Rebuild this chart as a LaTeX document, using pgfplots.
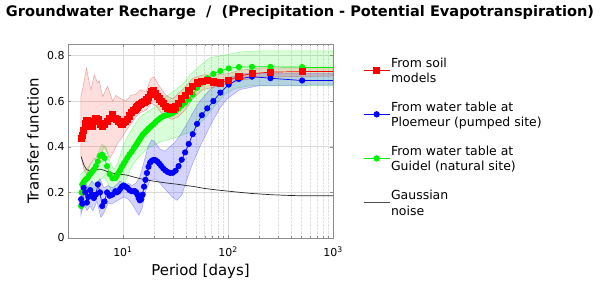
\documentclass[border=0pt]{standalone}
\usepackage{fontspec}
\setmainfont{DejaVu Sans}
\usepackage{graphicx}
\usepackage{pgfplots}
\pgfplotsset{compat=1.18}
\usepackage{pgfplotstable}

\pgfplotstableread{
P v
508 0.729
254 0.727
169.3 0.72
127 0.71
101.6 0.69
84.67 0.68
72.57 0.684
63.5 0.69
56.44 0.688
50.8 0.68
46.18 0.664
42.33 0.645
39.08 0.625
36.29 0.61
33.87 0.59
31.75 0.575
29.88 0.566
28.22 0.565
26.74 0.57
25.4 0.578
24.19 0.59
23.09 0.60
22.09 0.61
21.17 0.62
20.32 0.635
19.54 0.648
18.81 0.642
18.14 0.63
17.52 0.615
16.93 0.605
16.39 0.60
15.88 0.597
15.39 0.593
14.94 0.59
14.51 0.585
14.11 0.58
13.73 0.575
13.37 0.57
13.03 0.563
12.7 0.558
12.10 0.552
11.55 0.535
11.04 0.52
10.58 0.51
10.16 0.505
9.77 0.50
9.41 0.505
9.07 0.512
8.76 0.52
8.47 0.525
7.94 0.54
7.47 0.525
7.06 0.51
6.68 0.50
6.35 0.49
6.05 0.50
5.77 0.52
5.52 0.525
5.29 0.51
5.08 0.49
4.88 0.49
4.70 0.505
4.54 0.517
4.38 0.50
4.23 0.47
4.10 0.45
4.0 0.437
}\redtab

\pgfplotstableread{
P v
508 0.69
254 0.70
169.3 0.707
127 0.697
101.6 0.672
84.67 0.637
72.57 0.60
63.5 0.568
56.44 0.538
50.8 0.50
46.18 0.455
42.33 0.412
39.08 0.375
36.29 0.343
33.87 0.315
31.75 0.295
29.88 0.286
28.22 0.285
26.74 0.289
25.4 0.296
24.19 0.305
23.09 0.316
22.09 0.327
21.17 0.336
20.32 0.341
19.54 0.342
18.81 0.338
18.14 0.33
17.52 0.312
16.93 0.285
16.39 0.255
15.88 0.225
15.39 0.19
14.94 0.17
14.51 0.165
14.11 0.175
13.73 0.19
13.37 0.20
13.03 0.205
12.7 0.205
12.10 0.205
11.55 0.21
11.04 0.22
10.58 0.225
10.16 0.23
9.77 0.225
9.41 0.215
9.07 0.205
8.76 0.20
8.47 0.205
7.94 0.19
7.47 0.185
7.06 0.20
6.68 0.16
6.35 0.14
6.05 0.20
5.77 0.235
5.52 0.19
5.29 0.175
5.08 0.19
4.88 0.21
4.70 0.18
4.54 0.155
4.38 0.20
4.23 0.22
4.10 0.15
4.0 0.17
}\bluetab

\pgfplotstableread{
P v
508 0.749
254 0.75
169.3 0.75
127 0.749
101.6 0.743
84.67 0.732
72.57 0.719
63.5 0.70
56.44 0.68
50.8 0.658
46.18 0.628
42.33 0.607
39.08 0.593
36.29 0.58
33.87 0.567
31.75 0.555
29.88 0.548
28.22 0.543
26.74 0.54
25.4 0.537
24.19 0.533
23.09 0.528
22.09 0.521
21.17 0.514
20.32 0.506
19.54 0.498
18.81 0.492
18.14 0.486
17.52 0.479
16.93 0.472
16.39 0.465
15.88 0.458
15.39 0.452
14.94 0.443
14.51 0.434
14.11 0.425
13.73 0.417
13.37 0.408
13.03 0.40
12.7 0.393
12.10 0.378
11.55 0.366
11.04 0.352
10.58 0.338
10.16 0.325
9.77 0.312
9.41 0.298
9.07 0.285
8.76 0.272
8.47 0.262
7.94 0.262
7.47 0.28
7.06 0.315
6.68 0.35
6.35 0.365
6.05 0.36
5.77 0.335
5.52 0.315
5.29 0.30
5.08 0.29
4.88 0.28
4.70 0.27
4.54 0.26
4.38 0.255
4.23 0.245
4.10 0.235
4.03 0.20
4.0 0.14
}\greentab

\pgfplotstableread{
P v
4.0 0.357
4.25 0.32
4.5 0.30
4.8 0.295
5.2 0.298
5.6 0.30
6.0 0.302
6.5 0.298
7.5 0.287
9 0.28
10.8 0.276
13 0.266
15.6 0.257
19 0.25
22.5 0.245
27 0.24
32.4 0.236
40 0.23
46.7 0.226
60 0.217
80 0.21
97 0.206
130 0.2
170 0.195
250 0.19
350 0.187
500 0.185
1000 0.185
}\noisetab

\definecolor{cred}{RGB}{255,0,0}
\definecolor{cblue}{RGB}{0,0,255}
\definecolor{cgreen}{RGB}{0,240,0}

\begin{document}
\begin{tikzpicture}[x=1bp,y=1bp]
\path[use as bounding box] (0,0) rectangle (600,285);
\node at (300,272) {\resizebox{588bp}{!}{\bfseries Groundwater Recharge\hspace{0.7em}/\hspace{0.7em}(Precipitation - Potential Evapotranspiration)}};
\begin{axis}[
  at={(68bp,47bp)}, anchor=south west, scale only axis,
  width=265bp, height=194bp,
  xmode=log, xmin=3, xmax=1000, ymin=0, ymax=0.85,
  xtick={10,100,1000},
  xticklabels={10\textsuperscript{1},10\textsuperscript{2},10\textsuperscript{3}},
  ytick={0,0.2,0.4,0.6,0.8},
  yticklabels={0,0.2,0.4,0.6,0.8},
  grid=both,
  major grid style={black!14, line width=0.5pt},
  minor grid style={black!12, line width=0.4pt, densely dotted},
  axis line style={black!45},
  tick style={black!45},
  tick align=inside,
  major tick length=3bp, minor tick length=2bp,
  tick label style={font=\fontsize{11}{13}\selectfont},
  xticklabel style={yshift=-5bp},
  xlabel={Period [days]}, ylabel={Transfer function},
  label style={font=\fontsize{15}{18}\selectfont},
  xlabel style={at={(axis description cs:0.5,0)}, anchor=center, yshift=-33bp},
  ylabel style={at={(axis description cs:-0.132,0.5)}, anchor=center},
  legend style={at={(axis description cs:1,1)}, anchor=north west,
    xshift=27bp, yshift=-9bp, draw=none, fill=none,
    font=\fontsize{12.5}{15.7}\selectfont, row sep=14bp,
    nodes={align=left, inner sep=1bp},
    /tikz/every even column/.style={column sep=12bp}},
  legend cell align=left,
  legend image code/.code={\draw[mark repeat=2,mark phase=2] plot coordinates {(0bp,0bp)(13bp,0bp)(26bp,0bp)};},
]
% bands
\addplot[forget plot, fill=cgreen, fill opacity=0.15, draw=cgreen, draw opacity=0.35, line width=0.5pt] coordinates {
(3.98,0.28)(4.64,0.31)(5.53,0.35)(6.31,0.41)(6.89,0.40)(7.52,0.33)(8.21,0.30)(8.96,0.33)(10,0.40)(11.2,0.45)(12.7,0.49)(14.5,0.53)(16.6,0.55)(20.6,0.575)(25.7,0.62)(32.0,0.65)(38.1,0.68)(43.5,0.715)(54.1,0.755)(67.4,0.79)(89.6,0.80)(130,0.815)(202,0.82)(1000,0.82)
(1000,0.667)(162,0.667)(116.6,0.655)(93.6,0.63)(75.2,0.58)(61.7,0.53)(46.4,0.47)(32.0,0.44)(22.5,0.42)(16.9,0.39)(14.5,0.36)(13.3,0.34)(11.7,0.30)(10.4,0.24)(9.36,0.20)(8.58,0.19)(7.86,0.20)(7.20,0.24)(6.59,0.27)(6.04,0.25)(5.53,0.22)(4.85,0.18)(4.35,0.14)(3.98,0.12)
} -- cycle;
\addplot[forget plot, fill=cblue, fill opacity=0.17, draw=cblue, draw opacity=0.3, line width=0.5pt] coordinates {
(3.98,0.24)(4.35,0.25)(4.64,0.22)(5.07,0.25)(5.53,0.23)(6.04,0.26)(6.59,0.22)(7.20,0.23)(7.86,0.22)(8.58,0.23)(9.36,0.25)(10.2,0.24)(11.2,0.24)(12.2,0.23)(13.3,0.24)(14.5,0.27)(15.8,0.33)(17.3,0.40)(18.8,0.43)(20.2,0.42)(22.5,0.39)(25.1,0.38)(28.0,0.40)(31.3,0.42)(34.9,0.45)(40.7,0.50)(46.4,0.55)(54.1,0.60)(67.4,0.65)(83.9,0.685)(104.5,0.705)(145,0.72)(251,0.72)(1000,0.72)
(1000,0.67)(202,0.668)(130,0.65)(97.8,0.61)(83.9,0.57)(67.4,0.49)(54.1,0.40)(46.4,0.33)(41.6,0.27)(36.5,0.19)(32.7,0.165)(29.3,0.18)(25.7,0.21)(22.5,0.24)(20.2,0.26)(18.1,0.25)(16.6,0.21)(15.2,0.13)(14.2,0.10)(13.3,0.12)(12.2,0.15)(11.2,0.17)(10.2,0.18)(9.36,0.17)(8.58,0.16)(7.86,0.15)(7.20,0.15)(6.59,0.11)(6.17,0.09)(5.65,0.16)(5.18,0.12)(4.85,0.14)(4.54,0.12)(4.25,0.15)(3.98,0.10)
} -- cycle;
\addplot[forget plot, fill=cred, fill opacity=0.13, draw=cred!70!black, draw opacity=0.3, line width=0.5pt] coordinates {
(3.98,0.62)(4.16,0.66)(4.51,0.745)(4.69,0.70)(4.96,0.65)(5.33,0.715)(5.74,0.68)(5.94,0.69)(6.41,0.62)(7.15,0.665)(7.98,0.60)(8.58,0.625)(9.57,0.61)(10.7,0.60)(11.9,0.625)(13.3,0.63)(14.8,0.65)(16.6,0.64)(18.5,0.70)(19.9,0.705)(22.2,0.665)(25.7,0.625)(29.7,0.61)(37,0.65)(46.4,0.70)(57.8,0.715)(71.9,0.715)(100,0.72)(130,0.735)(202,0.745)(1000,0.745)
(1000,0.71)(202,0.705)(130,0.69)(100,0.675)(71.9,0.66)(57.8,0.65)(46.4,0.61)(38.9,0.56)(33.4,0.53)(29.3,0.52)(25.7,0.53)(23.0,0.55)(20.6,0.58)(18.5,0.59)(16.6,0.56)(14.8,0.55)(13.3,0.53)(11.9,0.50)(10.7,0.47)(9.78,0.44)(8.96,0.42)(8.21,0.38)(7.52,0.35)(7.04,0.38)(6.59,0.40)(6.17,0.36)(5.78,0.33)(5.29,0.35)(4.85,0.32)(4.54,0.28)(4.25,0.30)(3.98,0.36)
} -- cycle;
% noise
\addplot[forget plot, black!85, line width=0.7pt] table[x=P,y=v] {\noisetab};
% series
\addplot[forget plot, cgreen, line width=0.7pt] coordinates {(508,0.749)(1000,0.749)};
\addplot[forget plot, cblue, line width=0.7pt] coordinates {(508,0.69)(1000,0.69)};
\addplot[forget plot, cred, line width=0.7pt] coordinates {(508,0.729)(1000,0.729)};
\addplot[forget plot, cgreen, line width=0.7pt, mark=*, mark size=2.7bp] table[x=P,y=v] {\greentab};
\addplot[forget plot, cblue, line width=0.7pt, mark=*, mark size=2.7bp] table[x=P,y=v] {\bluetab};
\addplot[forget plot, cred, line width=0.7pt, mark=square*, mark size=3.1bp] table[x=P,y=v] {\redtab};
% legend
\addlegendimage{cred, line width=0.7pt, mark=square*, mark size=2.9bp}
\addlegendentry{\strut From soil\\\strut models}
\addlegendimage{cblue, line width=0.7pt, mark=*, mark size=2.8bp}
\addlegendentry{\strut From water table at\\\strut Ploemeur (pumped site)}
\addlegendimage{cgreen, line width=0.7pt, mark=*, mark size=2.8bp}
\addlegendentry{\strut From water table at\\\strut Guidel (natural site)}
\addlegendimage{black!70, line width=0.9pt}
\addlegendentry{\strut Gaussian\\\strut noise}
\end{axis}
\end{tikzpicture}
\end{document}
